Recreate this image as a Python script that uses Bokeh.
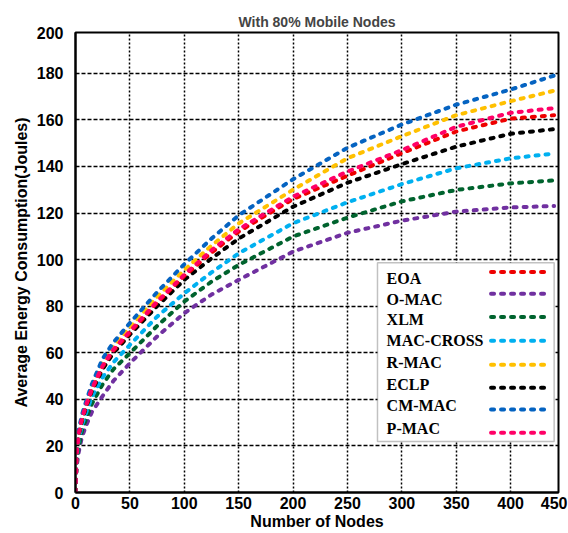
from bokeh.plotting import figure
from bokeh.models import FixedTicker, Label, BoxAnnotation, ColumnDataSource, Range1d
from bokeh.embed import file_html
from bokeh.resources import INLINE

# ---- data ----
x_nodes = [0, 1, 3, 6, 10, 15, 25, 35, 50, 75, 100, 125, 150, 200, 250, 300, 350, 400, 440]

cmmac = [0, 17, 27, 33.5, 39.5, 46.5, 57.5, 64.5, 72.8, 86, 98, 109, 119, 134.5, 148, 158, 166.5, 173, 179]
rmac = [0, 16.5, 26, 32.5, 38.5, 45.5, 56, 63, 70.8, 84, 95.5, 106, 115.5, 130, 143.5, 153, 162, 168, 172.5]
pmac = [0, 16, 25.5, 32, 38, 44.5, 54.5, 61.5, 69.2, 82, 93.5, 104, 113, 127, 137.8, 147, 157, 163, 165]
eoa = [0, 16, 25, 31.5, 37.5, 44, 54, 61, 68.6, 81.5, 93, 103, 112, 126, 136, 145.7, 155, 160.5, 162]
eclp = [0, 16, 25, 31, 37, 43.5, 53, 60, 67.8, 80, 91.3, 100.5, 109, 122.7, 133, 141, 148.5, 154, 156]
mac_cross = [0, 15, 23, 29, 34.5, 41, 49.5, 56, 63.4, 75.5, 85.5, 94.5, 102.7, 115.6, 124.6, 132.4, 139.2, 143.5, 145.5]
xlm = [0, 14, 19.5, 26.5, 32, 38, 46.5, 53, 59.8, 71.5, 82, 90.5, 97.7, 109.9, 118, 125, 129.9, 132.7, 134]
omac = [0, 11, 17.5, 24, 29, 34.5, 41.5, 48, 55.5, 67, 77, 85, 91.3, 103.4, 111.5, 116.7, 120.6, 122.4, 123]

legend_names = ["EOA", "O-MAC", "XLM", "MAC-CROSS", "R-MAC", "ECLP", "CM-MAC", "P-MAC"]
x_ticks = [0, 50, 100, 150, 200, 250, 300, 350, 400, 440]
x_tick_labels = ["0", "50", "100", "150", "200", "250", "300", "350", "400", "450"]
y_ticks = [0, 20, 40, 60, 80, 100, 120, 140, 160, 180, 197.5]
y_tick_labels = ["0", "20", "40", "60", "80", "100", "120", "140", "160", "180", "200"]

colors = {
    "EOA": "#EE0000",
    "O-MAC": "#7030A0",
    "XLM": "#00632E",
    "MAC-CROSS": "#00B0F0",
    "R-MAC": "#FFC000",
    "ECLP": "#000000",
    "CM-MAC": "#0563C1",
    "P-MAC": "#FF0066",
}
series = {
    "EOA": eoa, "O-MAC": omac, "XLM": xlm, "MAC-CROSS": mac_cross,
    "R-MAC": rmac, "ECLP": eclp, "CM-MAC": cmmac, "P-MAC": pmac,
}
draw_order = ["O-MAC", "XLM", "MAC-CROSS", "ECLP", "EOA", "R-MAC", "CM-MAC", "P-MAC"]

p = figure(width=568, height=533, output_backend="svg", toolbar_location=None,
           x_range=Range1d(0, 444), y_range=Range1d(0, 197.5),
           min_border_left=75, min_border_right=10, min_border_top=32, min_border_bottom=41,
           title="With 80% Mobile Nodes")

p.title.text_font = "Liberation Sans"
p.title.text_font_size = "14px"
p.title.text_font_style = "bold"
p.title.align = "center"
p.title.offset = -8
p.title.standoff = 6

p.outline_line_color = "black"
p.outline_line_width = 2
p.background_fill_color = "white"
p.border_fill_color = "white"

for ax in (p.xaxis[0], p.yaxis[0]):
    ax.axis_line_color = "black"
    ax.axis_line_width = 2
    ax.major_tick_line_color = None
    ax.minor_tick_line_color = None
    ax.major_tick_out = 0
    ax.major_tick_in = 0
    ax.minor_tick_out = 0
    ax.major_label_text_font = "Liberation Sans"
    ax.major_label_text_font_style = "bold"
    ax.major_label_text_font_size = "16px"
    ax.major_label_text_color = "black"
    ax.axis_label_text_font = "Liberation Sans"
    ax.axis_label_text_font_style = "bold"
    ax.axis_label_text_font_size = "16px"
    ax.axis_label_text_color = "black"

p.xaxis.ticker = FixedTicker(ticks=x_ticks)
p.xaxis.major_label_overrides = dict(zip(x_ticks, x_tick_labels))
p.yaxis.ticker = FixedTicker(ticks=y_ticks)
p.yaxis.major_label_overrides = dict(zip(y_ticks, y_tick_labels))
p.xaxis.axis_label = "Number of Nodes"
p.yaxis.axis_label = "Average Energy Consumption(Joules)"
p.xaxis.major_label_standoff = 4
p.xaxis.axis_label_standoff = 1
p.yaxis.major_label_standoff = 12
p.yaxis.axis_label_standoff = 4

p.xgrid.ticker = FixedTicker(ticks=x_ticks[1:-1])
p.ygrid.ticker = FixedTicker(ticks=y_ticks[1:-1])
p.xgrid.grid_line_color = "black"
p.xgrid.grid_line_width = 1.5
p.xgrid.grid_line_dash = "2 2"
p.ygrid.grid_line_color = "black"
p.ygrid.grid_line_width = 1.5
p.ygrid.grid_line_dash = "4 2"

for name in draw_order:
    src = ColumnDataSource(dict(x=x_nodes, y=series[name]))
    p.line("x", "y", source=src, line_color=colors[name], line_width=4,
           line_dash="3 7", line_cap="round")

# legend box (labels on the left, dashed samples on the right)
p.add_layout(BoxAnnotation(left=277.6, right=440, bottom=21.9, top=98.6,
                           fill_color="white", fill_alpha=1.0,
                           line_color="#333333", line_width=1.5, level="annotation"))
label_y = [91.7, 82.7, 74.2, 65.2, 55.7, 46.3, 37.3, 27.4]
sample_y = [94.7, 85.3, 75.4, 65.2, 54.9, 45.0, 35.6, 25.7]
leg_src = ColumnDataSource(dict(x0=[382] * 8, x1=[435] * 8, y=sample_y,
                                color=[colors[n] for n in legend_names]))
p.segment(x0="x0", y0="y", x1="x1", y1="y", source=leg_src, line_color="color",
          line_width=4, line_dash="3 7", line_cap="round", level="overlay")
for name, yy in zip(legend_names, label_y):
    p.add_layout(Label(x=286, y=yy, text=name, text_align="left", text_baseline="middle",
                       text_font="Liberation Serif", text_font_style="bold",
                       text_font_size="16px", text_color="black"))

open("out.html", "w").write(file_html(p, INLINE))
